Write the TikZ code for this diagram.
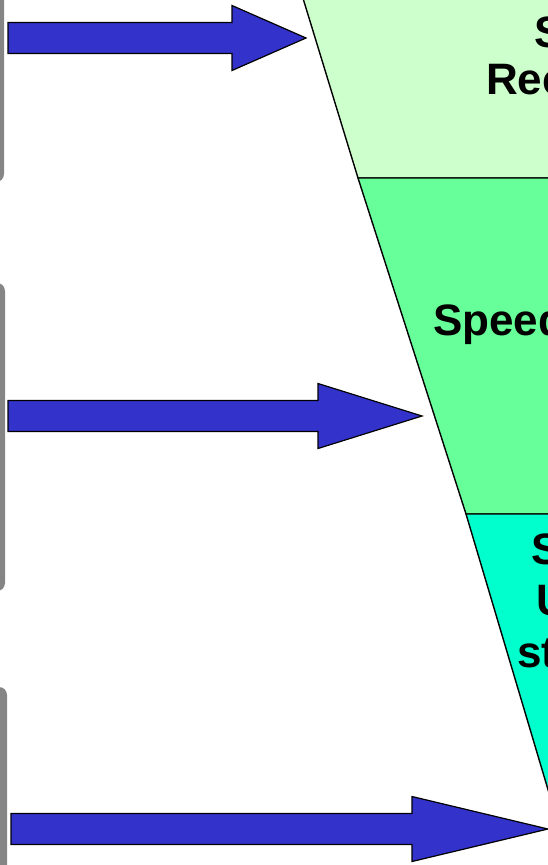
\documentclass[tikz,border=0pt]{standalone}
\usepackage{fontspec}
\setmainfont{Liberation Sans}
\usepackage{tikz}
\usetikzlibrary{positioning}
\definecolor{bandtop}{HTML}{CCFFCC}
\definecolor{bandmid}{HTML}{66FF99}
\definecolor{bandlow}{HTML}{00FFCC}
\definecolor{arrowblue}{HTML}{3333CC}
\definecolor{stripgray}{HTML}{858585}
\tikzset{
    band/.style={draw=black, line width=1.4pt, line join=round},
    fatarrow/.style={fill=arrowblue, draw=black, line width=1.2pt, line join=miter},
    label/.style={anchor=base west, inner sep=0pt, font=\fontsize{44}{50}\selectfont\bfseries},
}
\begin{document}
\begin{tikzpicture}[x=1pt, y=-1pt]
        \useasboundingbox (0,0) rectangle (548,865);
        \clip (0,0) rectangle (548,865);
        % gray boxes cut off at the left edge
        \foreach \top/\bot/\edge in {-30/182/4, 283/591/5, 687/900/7} {
            \fill[stripgray, rounded corners=8pt] (-40,\top) rectangle (\edge,\bot);
        }
        % funnel bands
        \draw[band, fill=bandtop] (302,-5) -- (600,-5) -- (600,178) -- (358,178) -- cycle;
        \draw[band, fill=bandmid] (358,178) -- (600,178) -- (600,514) -- (466,514) -- cycle;
        \draw[band, fill=bandlow] (466,514) -- (600,514) -- (600,840) -- (563,840) -- cycle;
        % band texts
        \node[label] (topS)   at (534,47)  {S};
        \node[label] (topRec) at (486,94)  {Rec};
        \node[label] (speed)  at (433,335) {Speed};
        \node[label] (lowS)   at (531,564) {S};
        \node[label] (lowU)   at (536,615) {U};
        \node[label] (lowSt)  at (517,667) {st};
        % arrows pointing at the funnel
        \foreach \yc/\xs/\xb/\xt in {38/8/232/306, 416/8/318/422, 829/11/412/548} {
            \draw[fatarrow]
                (\xs,\yc-15.5) -- (\xb,\yc-15.5) -- (\xb,\yc-32.5) -- (\xt,\yc)
             -- (\xb,\yc+32.5) -- (\xb,\yc+15.5) -- (\xs,\yc+15.5) -- cycle;
        }
    \end{tikzpicture}
\end{document}
